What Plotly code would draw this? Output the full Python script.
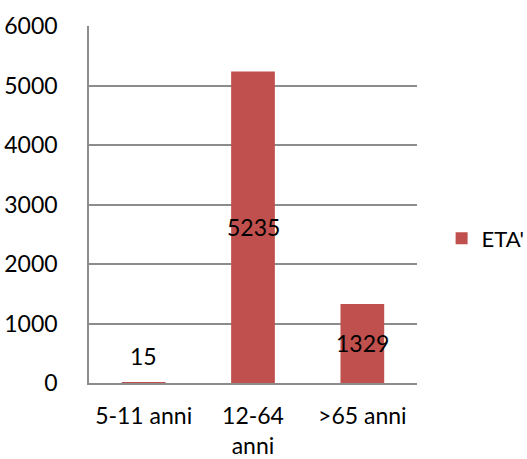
import plotly.graph_objects as go

# Age groups and counts
categories = ["5-11 anni", "12-64<br>anni", ">65 anni"]
values = [15, 5235, 1329]
series_name = "ETA'"

y_ticks = [0, 1000, 2000, 3000, 4000, 5000, 6000]

bar_color = "#C0504D"
grid_color = "#8C8C8C"
font_family = "Lato, Carlito, Calibri, sans-serif"
font_size = 23

fig = go.Figure()
fig.add_trace(go.Bar(
    x=categories,
    y=values,
    name=series_name,
    marker=dict(color=bar_color, line=dict(width=0)),
    showlegend=True,
))

# Value labels: centred in the bar, or just above it when the bar is too short
annotations = []
for cat, v in zip(categories, values):
    if v >= 800:
        annotations.append(dict(x=cat, y=v / 2, text=str(v), showarrow=False,
                                yanchor="middle", xanchor="center",
                                font=dict(family=font_family, size=font_size, color="black")))
    else:
        annotations.append(dict(x=cat, y=v, text=str(v), showarrow=False,
                                yanchor="bottom", xanchor="center", yshift=10,
                                font=dict(family=font_family, size=font_size, color="black")))

fig.update_layout(
    width=527,
    height=459,
    margin=dict(l=89, r=110, t=26, b=76, autoexpand=False),
    paper_bgcolor="white",
    plot_bgcolor="white",
    font=dict(family=font_family, size=font_size, color="black"),
    bargap=0.6,
    annotations=annotations,
    legend=dict(
        x=1.075, xanchor="left",
        y=0.405, yanchor="middle",
        font=dict(family=font_family, size=22, color="black"),
        bgcolor="rgba(0,0,0,0)",
        itemwidth=30,
    ),
    yaxis=dict(
        range=[0, 6000],
        tickvals=y_ticks,
        tickformat="d",
        showgrid=True,
        gridcolor=grid_color,
        gridwidth=1.5,
        showline=True,
        linecolor=grid_color,
        linewidth=1.5,
        zeroline=False,
        ticks="",
        ticklabelstandoff=25,
    ),
    xaxis=dict(
        showgrid=False,
        showline=True,
        linecolor=grid_color,
        linewidth=1.5,
        ticks="",
        ticklabelstandoff=12,
    ),
)

fig.write_html("out.html")
